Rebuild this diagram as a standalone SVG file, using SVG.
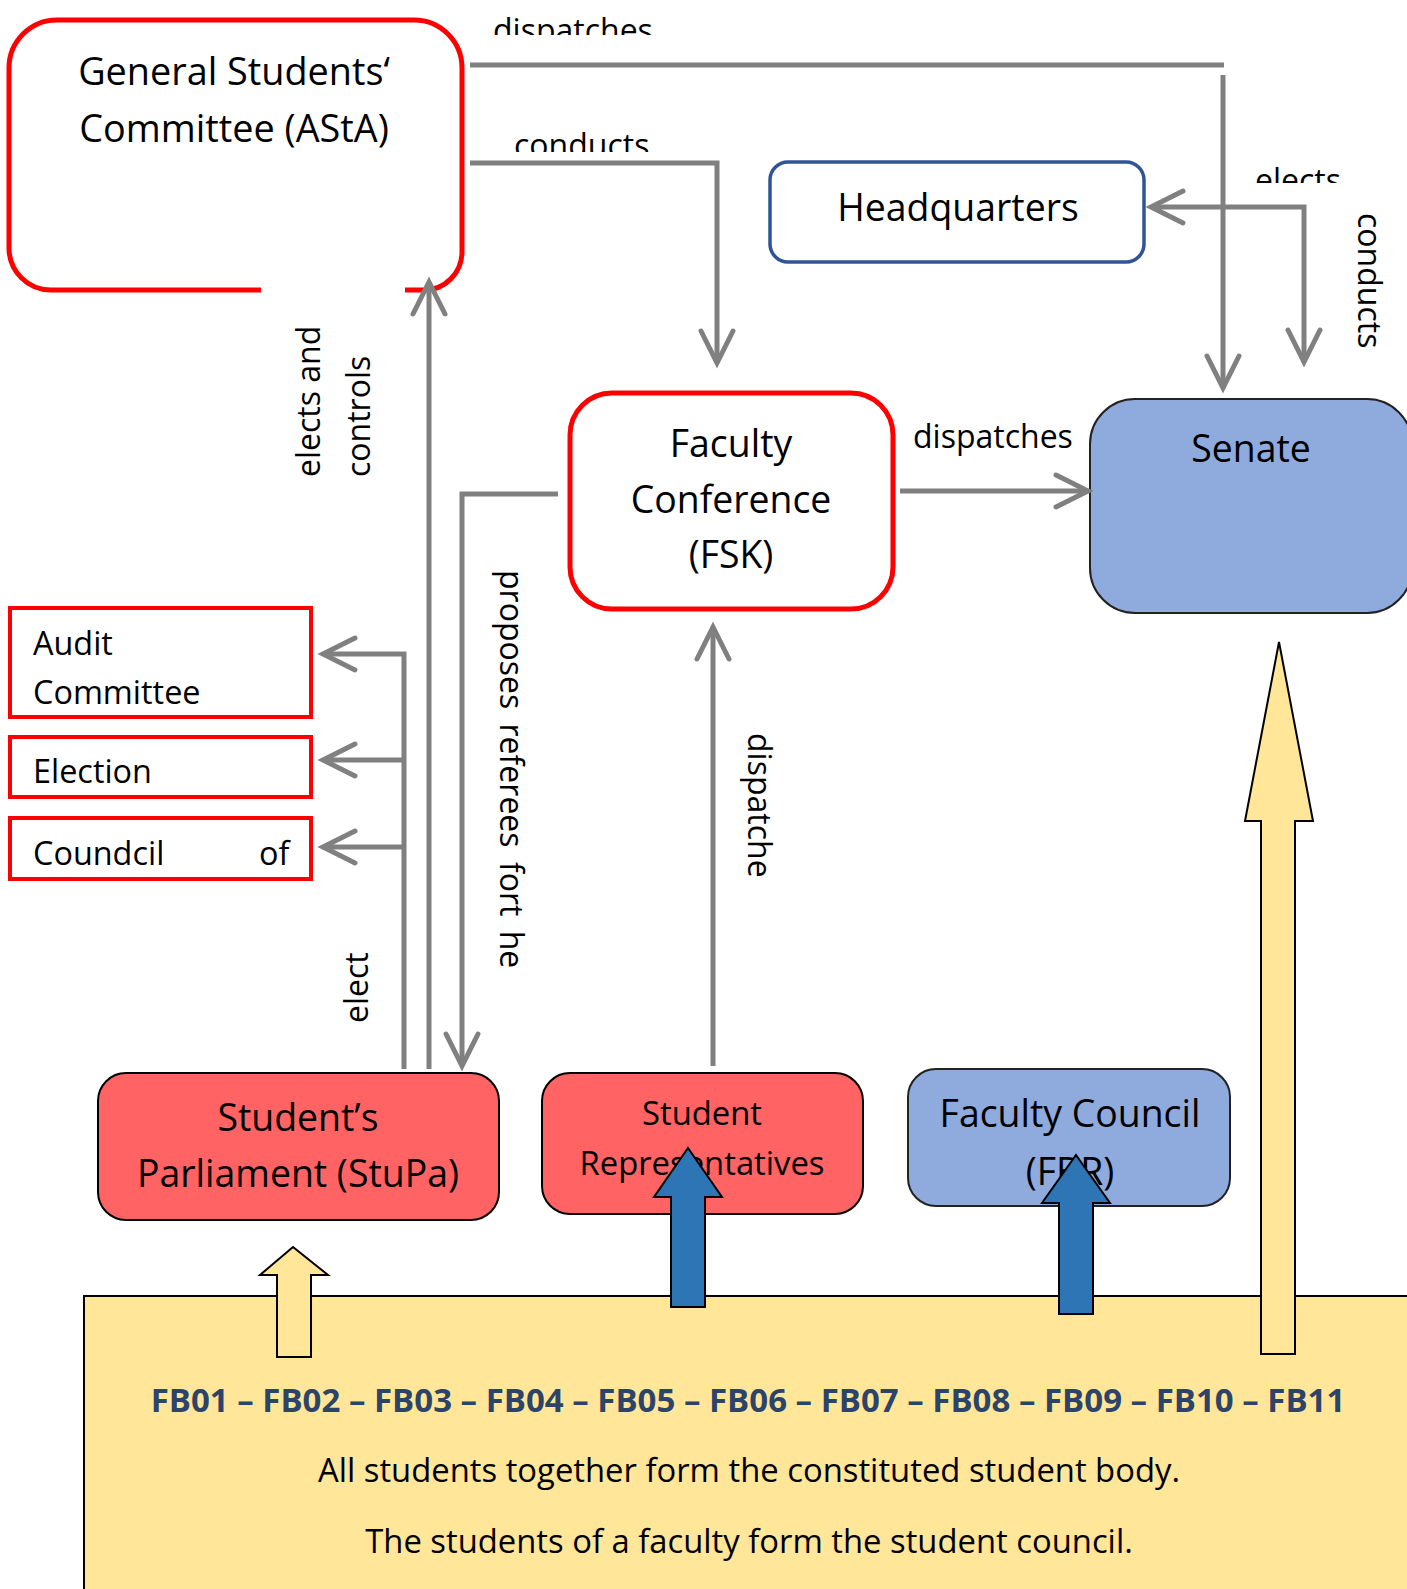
<svg xmlns="http://www.w3.org/2000/svg" width="1407" height="1589" viewBox="0 0 1407 1589">
<style>
text{font-family:"Open Sans","Noto Sans","DejaVu Sans",sans-serif;fill:#000}
.n36{font-size:37.4px;text-anchor:middle}
.n32{font-size:32.4px}
.n33{font-size:32.8px}
.lbl{font-size:32px}
.c{text-anchor:middle}
.con{fill:none;stroke:#808080;stroke-width:5}
.redbox{fill:#fff;stroke:#ff0000;stroke-width:5}
.sqbox{fill:#fff;stroke:#ff0000;stroke-width:4}
.redfill{fill:#ff6363;stroke:#000;stroke-width:2}
.bluefill{fill:#8faadc;stroke:#222;stroke-width:2}
.yarrow{fill:#ffe699;stroke:#000;stroke-width:2}
.barrow{fill:#2e75b6;stroke:#000;stroke-width:2}
.fb{font-size:33px;font-weight:bold;fill:#2c4468;text-anchor:middle}
</style>
<defs>
<marker id="ah" markerUnits="userSpaceOnUse" viewBox="-40 -25 50 50" markerWidth="50" markerHeight="50" refX="0" refY="0" orient="auto-start-reverse">
<path d="M-32,-16 L0,0 L-32,16" fill="none" stroke="#808080" stroke-width="5" stroke-linecap="round"/>
</marker>
<clipPath id="clipA"><rect x="480" y="0" width="200" height="35"/></clipPath>
<clipPath id="clipB"><rect x="500" y="110" width="180" height="42"/></clipPath>
<clipPath id="clipC"><rect x="1240" y="150" width="120" height="33"/></clipPath>
</defs>

<g id="student-body">
<rect x="84" y="1296" width="1340" height="320" fill="#ffe699" stroke="#000" stroke-width="2"/>
<text class="fb" x="748" y="1412">FB01 – FB02 – FB03 – FB04 – FB05 – FB06 – FB07 – FB08 – FB09 – FB10 – FB11</text>
<text class="n33 c" x="749" y="1482">All students together form the constituted student body.</text>
<text class="n33 c" x="749" y="1553">The students of a faculty form the student council.</text>
</g>

<g id="asta">
<path class="redbox" d="M261,290 H51 A42,42 0 0 1 9,248 V68 A48,48 0 0 1 57,20 H414 A48,48 0 0 1 462,68 V252 A38,38 0 0 1 424,290 H405"/>
<text class="n36" x="234" y="85" style="font-size:37.8px">General Students‘</text>
<text class="n36" x="234" y="142" style="font-size:37.8px">Committee (AStA)</text>
</g>

<g id="headquarters">
<rect x="770" y="162" width="374" height="100" rx="18" fill="#fff" stroke="#2f5597" stroke-width="3.5"/>
<text class="n36" x="958" y="221">Headquarters</text>
</g>

<g id="fsk">
<rect class="redbox" x="570" y="393" width="323" height="216" rx="42"/>
<text class="n36" x="731" y="457">Faculty</text>
<text class="n36" x="731" y="513">Conference</text>
<text class="n36" x="731" y="568">(FSK)</text>
</g>

<g id="senate">
<rect class="bluefill" x="1090" y="399" width="322" height="214" rx="45"/>
<text class="n36" x="1251" y="462">Senate</text>
</g>

<g id="audit-committee">
<rect class="sqbox" x="10" y="608" width="301" height="109"/>
<text class="n32" x="33" y="655">Audit</text>
<text class="n32" x="33" y="704">Committee</text>
</g>
<g id="election">
<rect class="sqbox" x="10" y="737" width="301" height="60"/>
<text class="n32" x="33" y="783">Election</text>
</g>
<g id="council">
<rect class="sqbox" x="10" y="818" width="301" height="61"/>
<text class="n32" x="33" y="865">Coundcil</text>
<text class="n32" x="259" y="865">of</text>
</g>

<g id="stupa">
<rect class="redfill" x="98" y="1073" width="401" height="147" rx="28"/>
<text class="n36" x="298" y="1131">Student’s</text>
<text class="n36" x="298" y="1187">Parliament (StuPa)</text>
</g>

<g id="student-representatives">
<rect class="redfill" x="542" y="1073" width="321" height="141" rx="28"/>
<text class="n33 c" x="702" y="1125">Student</text>
<text class="n33 c" x="702" y="1175">Representatives</text>
</g>

<g id="faculty-council">
<rect class="bluefill" x="908" y="1069" width="322" height="137" rx="28"/>
<text class="n36" x="1070" y="1127">Faculty Council</text>
<text class="n36" x="1070" y="1185">(FBR)</text>
</g>

<g id="connectors">
<path class="con" d="M470,65 H1224"/>
<path class="con" d="M1223,75 V388" marker-end="url(#ah)"/>
<path class="con" d="M470,163 H717 V363" marker-end="url(#ah)"/>
<path class="con" d="M1151,207 H1304 V362" marker-start="url(#ah)" marker-end="url(#ah)"/>
<path class="con" d="M900,491 H1088" marker-end="url(#ah)"/>
<path class="con" d="M558,494 H462 V1066" marker-end="url(#ah)"/>
<path class="con" d="M429,1069 V282" marker-end="url(#ah)"/>
<path class="con" d="M404,1069 V654 H323" marker-end="url(#ah)"/>
<path class="con" d="M404,760 H323" marker-end="url(#ah)"/>
<path class="con" d="M404,847 H323" marker-end="url(#ah)"/>
<path class="con" d="M713,1066 V627" marker-end="url(#ah)"/>

<polygon class="yarrow" points="293,1247 328,1275 311,1275 311,1357 277,1357 277,1275 260,1275"/>
<polygon class="barrow" points="688,1148 722,1197 705,1197 705,1307 671,1307 671,1197 654,1197"/>
<polygon class="barrow" points="1076,1155 1110,1203 1093,1203 1093,1314 1059,1314 1059,1203 1042,1203"/>
<polygon class="yarrow" points="1279,642 1313,821 1295,821 1295,1354 1261,1354 1261,821 1245,821"/>

<text class="lbl" x="493" y="42" clip-path="url(#clipA)">dispatches</text>
<text class="lbl" x="514" y="157" clip-path="url(#clipB)">conducts</text>
<text class="lbl" x="1255" y="192" clip-path="url(#clipC)">elects</text>
<text class="lbl" x="913" y="448">dispatches</text>
<text class="lbl" transform="translate(1358,213) rotate(90)">conducts</text>
<text class="lbl" transform="translate(320,477) rotate(-90)">elects and</text>
<text class="lbl" transform="translate(370,477) rotate(-90)">controls</text>
<text class="lbl" transform="translate(500,570) rotate(90)" word-spacing="6">proposes referees fort he</text>
<text class="lbl" transform="translate(748,733) rotate(90)">dispatche</text>
<text class="lbl" transform="translate(368,1023) rotate(-90)">elect</text>
</g>
</svg>
